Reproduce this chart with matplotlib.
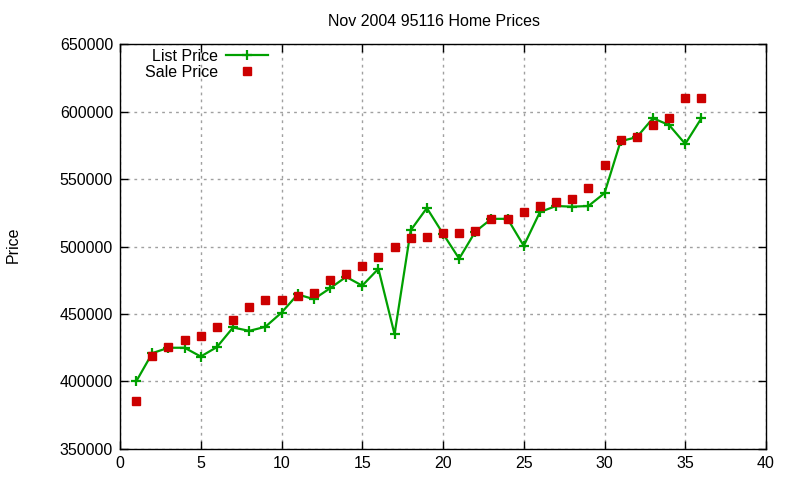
import matplotlib
matplotlib.use("Agg")
import matplotlib.pyplot as plt
from matplotlib.ticker import MultipleLocator

plt.rcParams['font.family'] = ['Liberation Sans', 'DejaVu Sans']

months = list(range(1, 37))
list_price = [400000, 421000, 425000, 425000, 418500, 425500, 440000, 437500, 440500, 451000,
              464500, 461000, 469000, 477500, 471000, 483500, 435000, 512000, 528500, 509500,
              491000, 511000, 520500, 520500, 500500, 525500, 530000, 529500, 530000, 539500,
              578000, 581000, 595000, 590000, 576000, 595000]
sale_price = [385500, 419000, 425500, 431000, 434000, 440500, 445500, 455500, 460500, 460500,
              463500, 465500, 475500, 480000, 485500, 492000, 500000, 506500, 507000, 510000,
              510000, 511500, 520500, 520500, 525500, 530000, 533000, 535500, 543000, 560500,
              579000, 581000, 590000, 595000, 610000, 610000]

title = "Nov 2004 95116 Home Prices"
ylabel = "Price"
list_label = "List Price"
sale_label = "Sale Price"

FS = 11.5

fig = plt.figure(figsize=(8, 4.8), dpi=100)
ax = fig.add_axes([0.15, 0.0646, 0.8075, 0.8437])

ax.plot(months, list_price, color='#00a000', lw=1.6, marker='+', ms=7, mew=1.6,
        label=list_label, zorder=3)
ax.plot(months, sale_price, ls='none', color='#cc0000', marker='s', ms=5.8,
        label=sale_label, zorder=4)

ax.set_xlim(0, 40)
ax.set_ylim(350000, 650000)
ax.xaxis.set_major_locator(MultipleLocator(5))
ax.yaxis.set_major_locator(MultipleLocator(50000))
ax.tick_params(direction='in', top=True, right=True, labelsize=FS, length=6, width=1,
               colors='black', pad=5)
ax.grid(True, color='#a0a0a0', ls=(0, (2, 3)), lw=1)
for s in ax.spines.values():
    s.set_linewidth(1)
    s.set_color('black')

fig.text(0.542, 0.956, title, ha='center', va='center', fontsize=FS)
fig.text(0.016, 0.49, ylabel, ha='center', va='center', rotation=90, fontsize=FS)

leg = ax.legend(loc='upper left', bbox_to_anchor=(0.0387, 0.9876), frameon=False, markerfirst=False,
                fontsize=FS, handlelength=2.6, handletextpad=0.5, labelspacing=0.05,
                borderaxespad=0, borderpad=0)
fig.savefig('out.png', dpi=100)
